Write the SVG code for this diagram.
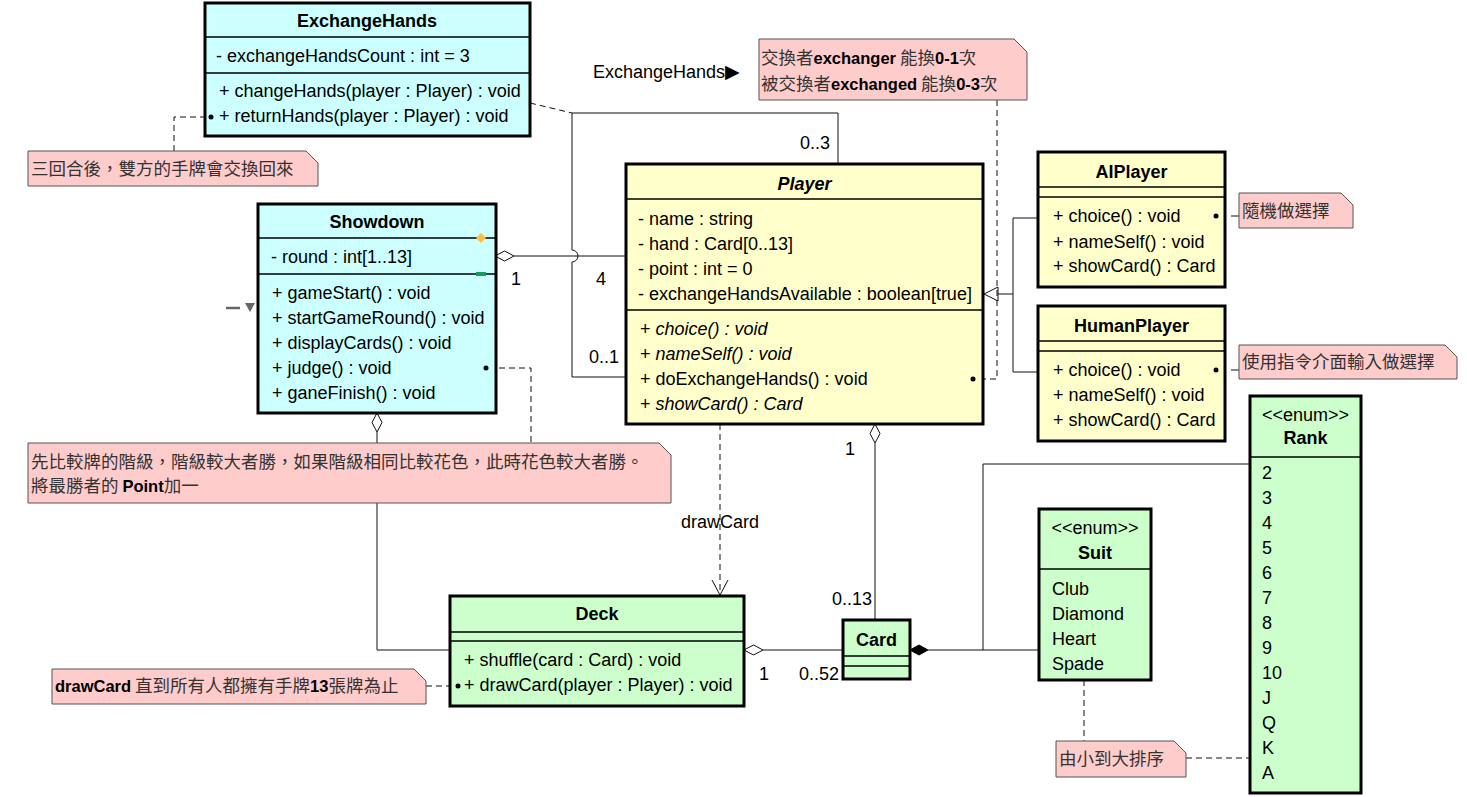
<svg xmlns="http://www.w3.org/2000/svg" width="1467" height="797" viewBox="0 0 1467 797">
<style>
.bg{fill:#fff}
.box{stroke:#000;stroke-width:3}
.c{fill:#CCFFFF}
.y{fill:#FFFFCC}
.g{fill:#CCFFCC}
.dv{stroke:#000;stroke-width:1.3}
.t{font-family:"Liberation Sans",Arial,sans-serif;font-size:18px;fill:#000}
.b{font-weight:bold}
.i{font-style:italic}
.m{text-anchor:middle}
.note{fill:#FFCCCC;stroke:#555;stroke-width:1}
.nt{font-family:"Noto Sans CJK TC","Noto Sans CJK SC",sans-serif;font-size:17.5px;fill:#333}
.nb{font-family:"Liberation Sans",Arial,sans-serif;font-weight:bold;font-size:16.5px;fill:#000}
.ln{fill:none;stroke:#111;stroke-width:1}
.da{stroke-dasharray:6,4}
.hd{fill:#fff;stroke:#111;stroke-width:1}
.dot{fill:#000}
</style>
<rect class="bg" width="1467" height="797"/>

<g id="connectors">
  <!-- Showdown - Player aggregation -->
  <path class="ln" d="M514,256 H627"/>
  <polygon class="hd" points="495,256 504.5,251 514,256 504.5,261"/>
  <text class="t" x="516" y="285" text-anchor="middle">1</text>
  <text class="t" x="601" y="285" text-anchor="middle">4</text>
  <!-- Player self association (ExchangeHands) -->
  <path class="ln" d="M627,377 H572 V262 A6,6 0 0 0 572,250 V113 H838 V164"/>
  <text class="t" x="604" y="363" text-anchor="middle">0..1</text>
  <text class="t" x="815" y="149" text-anchor="middle">0..3</text>
  <path class="ln da" d="M530,103 L572,113"/>
  <text class="t" x="593" y="78">ExchangeHands<tspan font-family="DejaVu Sans,sans-serif" font-size="19">▶</tspan></text>
  <!-- Generalization -->
  <path class="ln" d="M1038,218 H1013 V372 H1038 M1013,294 H998"/>
  <polygon class="hd" points="984,294 998,287 998,301"/>
  <!-- note to doExchangeHands -->
  <path class="ln da" d="M997,100 V379 H976"/>
  <!-- note to returnHands -->
  <path class="ln da" d="M174,151 V117 H208"/>
  <!-- note to judge -->
  <path class="ln da" d="M489,368 H531 V443"/>
  <!-- notes to AIPlayer / HumanPlayer -->
  <path class="ln" d="M1231,216 H1239 M1231,370 H1239"/>
  <!-- Player - Card aggregation -->
  <path class="ln" d="M875,443 V620"/>
  <polygon class="hd" points="875,424 880,433.5 875,443 870,433.5"/>
  <text class="t" x="850" y="455" text-anchor="middle">1</text>
  <text class="t" x="852" y="605" text-anchor="middle">0..13</text>
  <!-- drawCard dependency -->
  <path class="ln da" d="M720,424 V594"/>
  <path class="ln" d="M712,580 L720,595 L728,580"/>
  <text class="t" x="720" y="528" text-anchor="middle">drawCard</text>
  <!-- Showdown - Deck aggregation -->
  <path class="ln" d="M377,432 V650 H450"/>
  <polygon class="hd" points="377,413 382,422.5 377,432 372,422.5"/>
  <!-- Deck - Card aggregation -->
  <path class="ln" d="M763,650 H843"/>
  <polygon class="hd" points="744,650 753.5,645 763,650 753.5,655"/>
  <text class="t" x="764" y="680" text-anchor="middle">1</text>
  <text class="t" x="819" y="680" text-anchor="middle">0..52</text>
  <!-- drawCard note -->
  <path class="ln da" d="M426,686 H455"/>
  <!-- Card composition Suit / Rank -->
  <path class="ln" d="M928,650 H1039 M983,650 V464 H1250"/>
  <polygon fill="#000" stroke="#000" stroke-width="1" points="910,650 919,645 928,650 919,655"/>
  <!-- enum note -->
  <path class="ln da" d="M1084,680 V741 M1186,758 H1250"/>
  <!-- left marker -->
  <path d="M226,308 H240" stroke="#666" stroke-width="2.5"/>
  <polygon fill="#666" points="245,303 255,303 250,312"/>
</g>

<g id="ExchangeHands">
  <rect class="box c" x="205" y="3" width="325" height="133"/>
  <path class="dv" d="M205,37 H530 M205,73 H530"/>
  <text class="t b m" x="367" y="27">ExchangeHands</text>
  <text class="t" x="216" y="62">- exchangeHandsCount : int = 3</text>
  <text class="t" x="219" y="97">+ changeHands(player : Player) : void</text>
  <text class="t" x="219" y="122">+ returnHands(player : Player) : void</text>
</g>

<g id="Showdown">
  <rect class="box c" x="258" y="204" width="238" height="209"/>
  <path class="dv" d="M258,238 H496 M258,274 H496"/>
  <polygon fill="#FFC040" points="481,233 486,238 481,243 476,238"/>
  <rect fill="#1A9A5A" x="476" y="272" width="10" height="4"/>
  <text class="t b m" x="377" y="228">Showdown</text>
  <text class="t" x="271" y="263">- round : int[1..13]</text>
  <text class="t" x="272" y="299">+ gameStart() : void</text>
  <text class="t" x="272" y="324">+ startGameRound() : void</text>
  <text class="t" x="272" y="349">+ displayCards() : void</text>
  <text class="t" x="272" y="374">+ judge() : void</text>
  <text class="t" x="272" y="399">+ ganeFinish() : void</text>
</g>

<g id="Player">
  <rect class="box y" x="626" y="164" width="357" height="260"/>
  <path class="dv" d="M626,199 H983 M626,310 H983"/>
  <text class="t b i m" x="804.5" y="190">Player</text>
  <text class="t" x="638" y="225">- name : string</text>
  <text class="t" x="638" y="250">- hand : Card[0..13]</text>
  <text class="t" x="638" y="275">- point : int = 0</text>
  <text class="t" x="638" y="300">- exchangeHandsAvailable : boolean[true]</text>
  <text class="t" x="640" y="335">+ <tspan class="i">choice() : void</tspan></text>
  <text class="t" x="640" y="360">+ <tspan class="i">nameSelf() : void</tspan></text>
  <text class="t" x="640" y="385">+ doExchangeHands() : void</text>
  <text class="t" x="640" y="410">+ <tspan class="i">showCard() : Card</tspan></text>
</g>

<g id="AIPlayer">
  <rect class="box y" x="1038" y="152" width="187" height="135"/>
  <path class="dv" d="M1038,187 H1225 M1038,197 H1225"/>
  <text class="t b m" x="1131.5" y="178">AIPlayer</text>
  <text class="t" x="1053" y="222">+ choice() : void</text>
  <text class="t" x="1053" y="248">+ nameSelf() : void</text>
  <text class="t" x="1053" y="272">+ showCard() : Card</text>
</g>

<g id="HumanPlayer">
  <rect class="box y" x="1038" y="306" width="187" height="135"/>
  <path class="dv" d="M1038,341 H1225 M1038,351 H1225"/>
  <text class="t b m" x="1131.5" y="332">HumanPlayer</text>
  <text class="t" x="1053" y="376">+ choice() : void</text>
  <text class="t" x="1053" y="401">+ nameSelf() : void</text>
  <text class="t" x="1053" y="426">+ showCard() : Card</text>
</g>

<g id="Deck">
  <rect class="box g" x="450" y="596" width="294" height="110"/>
  <path class="dv" d="M450,632 H744 M450,641 H744"/>
  <text class="t b m" x="597" y="620">Deck</text>
  <text class="t" x="464" y="666">+ shuffle(card : Card) : void</text>
  <text class="t" x="464" y="691">+ drawCard(player : Player) : void</text>
</g>

<g id="Card">
  <rect class="box g" x="843" y="620" width="67" height="59"/>
  <path class="dv" d="M843,656 H910 M843,666 H910"/>
  <text class="t b m" x="876.5" y="646">Card</text>
</g>

<g id="Suit">
  <rect class="box g" x="1039" y="509" width="112" height="171"/>
  <path class="dv" d="M1039,569 H1151"/>
  <text class="t m" x="1095" y="534">&lt;&lt;enum&gt;&gt;</text>
  <text class="t b m" x="1095" y="559">Suit</text>
  <text class="t" x="1052" y="595">Club</text>
  <text class="t" x="1052" y="620">Diamond</text>
  <text class="t" x="1052" y="645">Heart</text>
  <text class="t" x="1052" y="670">Spade</text>
</g>

<g id="Rank">
  <rect class="box g" x="1250" y="396" width="111" height="397"/>
  <path class="dv" d="M1250,457 H1361"/>
  <text class="t m" x="1305.5" y="421">&lt;&lt;enum&gt;&gt;</text>
  <text class="t b m" x="1305.5" y="444">Rank</text>
  <text class="t" x="1262" y="479">2</text>
  <text class="t" x="1262" y="504">3</text>
  <text class="t" x="1262" y="529">4</text>
  <text class="t" x="1262" y="554">5</text>
  <text class="t" x="1262" y="579">6</text>
  <text class="t" x="1262" y="604">7</text>
  <text class="t" x="1262" y="629">8</text>
  <text class="t" x="1262" y="654">9</text>
  <text class="t" x="1262" y="679">10</text>
  <text class="t" x="1262" y="704">J</text>
  <text class="t" x="1262" y="729">Q</text>
  <text class="t" x="1262" y="754">K</text>
  <text class="t" x="1262" y="779">A</text>
</g>

<g id="note-exchange-return">
  <path class="note" d="M28,151 H306 L318,163 V186 H28 Z"/>
  <text class="nt" x="31" y="175">三回合後，雙方的手牌會交換回來</text>
</g>

<g id="note-exchange-count">
  <path class="note" d="M759,39 H1014 L1027,52 V100 H759 Z"/>
  <text class="nt" x="761" y="64">交換者<tspan class="nb">exchanger</tspan> 能換<tspan class="nb">0-1</tspan>次</text>
  <text class="nt" x="761" y="90">被交換者<tspan class="nb">exchanged</tspan> 能換<tspan class="nb">0-3</tspan>次</text>
</g>

<g id="note-ai">
  <path class="note" d="M1239,193 H1341 L1353,205 V228 H1239 Z"/>
  <text class="nt" x="1242" y="217">隨機做選擇</text>
</g>

<g id="note-human">
  <path class="note" d="M1239,345 H1445 L1457,357 V379 H1239 Z"/>
  <text class="nt" x="1242" y="368">使用指令介面輸入做選擇</text>
</g>

<g id="note-judge">
  <path class="note" d="M28,443 H659 L671,455 V503 H28 Z"/>
  <text class="nt" x="31" y="468">先比較牌的階級，階級較大者勝，如果階級相同比較花色，此時花色較大者勝。</text>
  <text class="nt" x="31" y="492">將最勝者的 <tspan class="nb">Point</tspan>加一</text>
</g>

<g id="note-drawcard">
  <path class="note" d="M52,669 H414 L426,681 V704 H52 Z"/>
  <text class="nt" x="55" y="692"><tspan class="nb">drawCard</tspan> 直到所有人都擁有手牌<tspan class="nb">13</tspan>張牌為止</text>
</g>

<g id="note-enum">
  <path class="note" d="M1056,741 H1174 L1186,753 V777 H1056 Z"/>
  <text class="nt" x="1059" y="765">由小到大排序</text>
</g>

<g id="note-anchors">
  <circle class="dot" cx="211" cy="117" r="2.5"/>
  <circle class="dot" cx="486" cy="368" r="2.5"/>
  <circle class="dot" cx="973" cy="379" r="2.5"/>
  <circle class="dot" cx="1216" cy="216" r="2.5"/>
  <circle class="dot" cx="1216" cy="370" r="2.5"/>
  <circle class="dot" cx="458" cy="686" r="2.5"/>
</g>
</svg>
